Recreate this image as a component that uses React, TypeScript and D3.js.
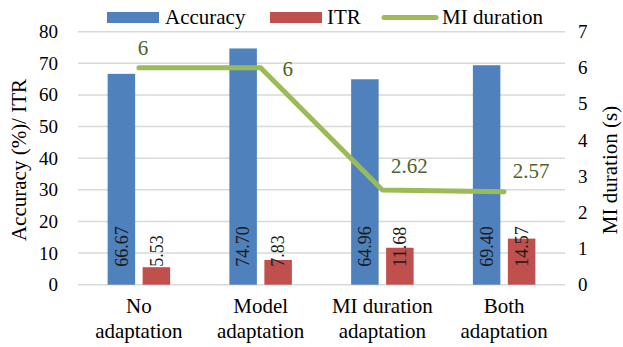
import React from "react";
import * as d3 from "d3";

const categories = [["No", "adaptation"], ["Model", "adaptation"], ["MI duration", "adaptation"], ["Both", "adaptation"]];
const accuracy = [66.67, 74.7, 64.96, 69.4];
const itr = [5.53, 7.83, 11.68, 14.57];
const miDuration = [6, 6, 2.62, 2.57];
const miLabels = ["6", "6", "2.62", "2.57"];
const leftTicks = [0, 10, 20, 30, 40, 50, 60, 70, 80];
const rightTicks = [0, 1, 2, 3, 4, 5, 6, 7];

const W = 623, H = 347;
const plot = { left: 78, right: 565, top: 31.7, bottom: 284.7 };
const labelOffsets = [[4, -13], [27, 8], [27, -17], [27, -14]];
const FS = { fontFamily: '"Liberation Serif"' };

export default function App() {
  const keys = categories.map((c) => c.join(" "));
  const x = d3.scaleBand<string>().domain(keys).range([plot.left, plot.right]);
  const inner = d3.scaleBand<string>().domain(["Accuracy", "ITR"]).range([-31.25, 31.25]).paddingInner(0.214);
  const yL = d3.scaleLinear().domain([0, 80]).range([plot.bottom, plot.top]);
  const yR = d3.scaleLinear().domain([0, 7]).range([plot.bottom, plot.top]);
  const cx = (i: number) => (x(keys[i]) as number) + x.bandwidth() / 2;
  const line = d3.line<number>().x((_, i) => cx(i)).y((d) => yR(d));
  const series = [
    { name: "Accuracy", values: accuracy, color: "#4F81BD" },
    { name: "ITR", values: itr, color: "#C0504D" },
  ];

  return (
    <svg width={W} height={H} style={{ position: "absolute", left: 0, top: 0 }}>
      <rect width={W} height={H} fill="#fff" />
      {leftTicks.map((t) => (
        <line key={t} x1={plot.left} x2={plot.right} y1={yL(t)} y2={yL(t)} stroke="#D9D9D9" strokeWidth={1.5} />
      ))}
      {leftTicks.map((t) => (
        <text key={t} x={58} y={yL(t)} dy="0.34em" textAnchor="end" fontSize={19} fill="#000" style={FS}>{t}</text>
      ))}
      {rightTicks.map((t) => (
        <text key={t} x={578} y={yR(t)} dy="0.34em" textAnchor="start" fontSize={19} fill="#000" style={FS}>{t}</text>
      ))}
      <text transform={`translate(26,160) rotate(-90)`} textAnchor="middle" fontSize={21} fill="#000" style={FS}>Accuracy (%)/ ITR</text>
      <text transform={`translate(617,170) rotate(-90)`} textAnchor="middle" fontSize={21} fill="#000" style={FS}>MI duration (s)</text>

      {series.map((s) =>
        s.values.map((v, i) => {
          const bx = cx(i) + (inner(s.name) as number);
          return (
            <g key={s.name + i}>
              <rect x={bx} y={yL(v)} width={inner.bandwidth()} height={yL(0) - yL(v)} fill={s.color} />
              <text
                transform={`translate(${bx + inner.bandwidth() / 2},${plot.bottom - 18}) rotate(-90)`}
                dy="0.35em"
                textAnchor="start"
                fontSize={18}
                fill="#1a1a1a"
                style={FS}
              >
                {v.toFixed(2)}
              </text>
            </g>
          );
        })
      )}

      <path d={line(miDuration) as string} fill="none" stroke="#9BBB59" strokeWidth={5} strokeLinecap="round" strokeLinejoin="round" />
      {miDuration.map((v, i) => (
        <text key={i} x={cx(i) + labelOffsets[i][0]} y={yR(v) + labelOffsets[i][1]} textAnchor="middle" fontSize={21} fill="#4F6228" style={FS}>
          {miLabels[i]}
        </text>
      ))}

      {categories.map((c, i) => (
        <text key={i} textAnchor="middle" fontSize={21} fill="#000" style={FS}>
          <tspan x={cx(i)} y={313}>{c[0]}</tspan>
          <tspan x={cx(i)} y={338}>{c[1]}</tspan>
        </text>
      ))}

      <g fontSize={21} fill="#000">
        <rect x={107} y={12} width={52} height={11} fill="#4F81BD" />
        <text x={165} y={24} style={FS}>Accuracy</text>
        <rect x={270} y={12} width={52} height={11} fill="#C0504D" />
        <text x={327} y={24} style={FS}>ITR</text>
        <line x1={384} x2={436} y1={17.5} y2={17.5} stroke="#9BBB59" strokeWidth={5} strokeLinecap="round" />
        <text x={442} y={24} style={FS}>MI duration</text>
      </g>
    </svg>
  );
}
